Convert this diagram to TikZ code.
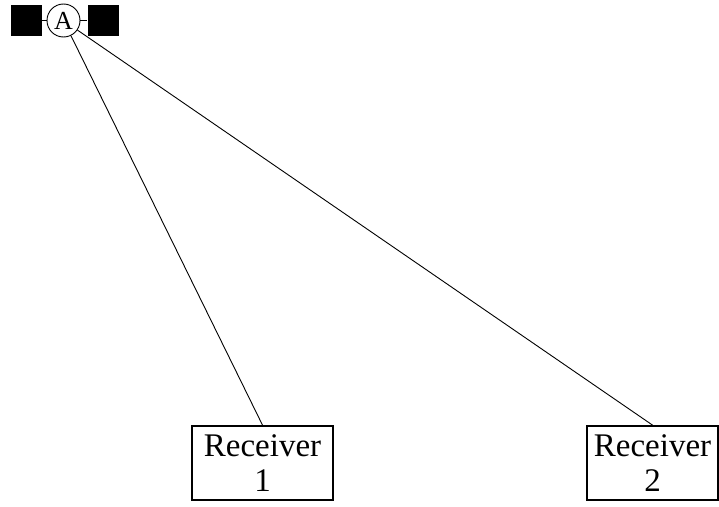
\documentclass[tikz,border=0pt]{standalone}
\usepackage{fontspec}
\setmainfont{Liberation Serif}
\begin{document}
\begin{tikzpicture}[x=1pt,y=-1pt,
  thinline/.style={line width=0.9pt},
  block/.style={fill=black,minimum width=31pt,minimum height=31pt,inner sep=0pt},
  antenna/.style={circle,draw,line width=0.9pt,minimum size=33pt,inner sep=0pt,font=\fontsize{26}{26}\selectfont},
  receiver/.style={draw,line width=1.8pt,inner sep=0pt,align=center,font=\fontsize{33}{35}\selectfont}]
\useasboundingbox (0,0) rectangle (719,506);
\node[antenna] (A) at (63.5,20.5) {A};
\node[block] (L) at (26,20.5) {};
\node[block] (R) at (103,20.5) {};
\draw[thinline] (L) -- (A);
\draw[thinline] (A) -- (R);
\node[receiver,minimum width=141pt,minimum height=74pt] (r1) at (262.5,463) {Receiver\\1};
\node[receiver,minimum width=131pt,minimum height=74pt] (r2) at (652.5,463) {Receiver\\2};
\draw[thinline] (A) -- (r1.north);
\draw[thinline] (A) -- (r2.north);
\end{tikzpicture}
\end{document}
